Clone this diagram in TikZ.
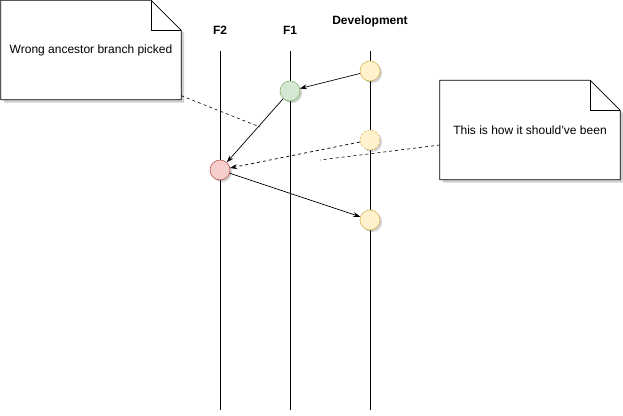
\documentclass[tikz,border=0pt]{standalone}
\usepackage{fontspec}
\setmainfont{Liberation Sans}
\usetikzlibrary{arrows.meta, calc, shadows, backgrounds}
\definecolor{cYf}{HTML}{FFF2CC}
\definecolor{cYd}{HTML}{D6B656}
\definecolor{cGf}{HTML}{D5E8D4}
\definecolor{cGd}{HTML}{82B366}
\definecolor{cRf}{HTML}{F8CECC}
\definecolor{cRd}{HTML}{B85450}

\begin{document}
\begin{tikzpicture}[
  x=1pt, y=-1pt,
  font=\fontsize{12}{14}\selectfont,
  %% branch line
  lane/.style={line width=0.8pt, draw=black},
  %% branch title
  title/.style={font=\fontsize{12}{14}\selectfont\bfseries, anchor=base},
  %% commit circles
  commit/.style={circle, minimum size=20pt, inner sep=0pt, line width=0.6pt,
    drop shadow={shadow xshift=2pt, shadow yshift=-2pt, fill=black, opacity=0.18}},
  cy/.style={commit, fill=cYf, draw=cYd},
  cg/.style={commit, fill=cGf, draw=cGd},
  cr/.style={commit, fill=cRf, draw=cRd},
  %% edges
  edge/.style={-{Stealth[length=7pt,width=5pt]}, line width=0.7pt},
  edged/.style={edge, dashed, dash pattern=on 3pt off 3pt},
  link/.style={line width=0.6pt, dashed, dash pattern=on 3pt off 3pt},
  %% note text
  notetxt/.style={minimum width=180pt, minimum height=99pt, inner sep=0pt,
    align=center},
]

\useasboundingbox (0,0) rectangle (623,415);

%% ── Geometry ────────────────────────────────────────────────
\def\xF{220}       % F2
\def\xE{290}       % F1
\def\xD{370}       % Development
\def\fold{30}      % note corner fold

%% ── Branch lanes ────────────────────────────────────────────
\draw[lane] (\xF,51) -- (\xF,410);
\draw[lane] (\xE,51) -- (\xE,410);
\draw[lane] (\xD,51) -- (\xD,410);

\node[title] (tF2)  at (\xF,34) {F2};
\node[title] (tF1)  at (\xE,34) {F1};
\node[title] (tDev) at (\xD,24) {Development};

%% ── Commits ─────────────────────────────────────────────────
\node[cy] (d1) at (\xD,71)  {};
\node[cg] (f1) at (\xE,91)  {};
\node[cy, dashed, dash pattern=on 2pt off 2pt] (d2) at (\xD,140) {};
\node[cr] (f2) at (\xF,170) {};
\node[cy] (d3) at (\xD,220) {};

%% ── Merges ──────────────────────────────────────────────────
\draw[edge]  (d1) -- (f1);
\draw[edge]  (f1) -- (f2);
\draw[edge]  (f2) -- (d3);
\draw[edged] (d2) -- (f2);

%% ── Notes ───────────────────────────────────────────────────
\node[notetxt] (nWrong)  at (91,50)   {Wrong ancestor branch picked};
\node[notetxt] (nShould) at (530,130) {This is how it should've been};

\begin{scope}[on background layer]
\foreach \n in {nWrong, nShould} {
  \fill[black, opacity=0.18]
    ($(\n.south west)+(3,3)$) -- ($(\n.north west)+(3,3)$)
    -- ($(\n.north east)+(3-\fold,3)$) -- ($(\n.north east)+(3,3+\fold)$)
    -- ($(\n.south east)+(3,3)$) -- cycle;
  \filldraw[fill=white, draw=black, line width=0.7pt]
    (\n.south west) -- (\n.north west)
    -- ($(\n.north east)+(-\fold,0)$) -- ($(\n.north east)+(0,\fold)$)
    -- (\n.south east) -- cycle;
  \draw[line width=0.7pt]
    ($(\n.north east)+(-\fold,0)$) |- ($(\n.north east)+(0,\fold)$);
}
\end{scope}

%% ── Note links ──────────────────────────────────────────────
\coordinate (pWrong)  at (260,127);
\coordinate (pShould) at (320,160);
\draw[link] ($(nWrong.south east)+(0,-4)$) -- (pWrong);
\draw[link] ($(nShould.west)+(0,15)$) -- (pShould);

\end{tikzpicture}
\end{document}
